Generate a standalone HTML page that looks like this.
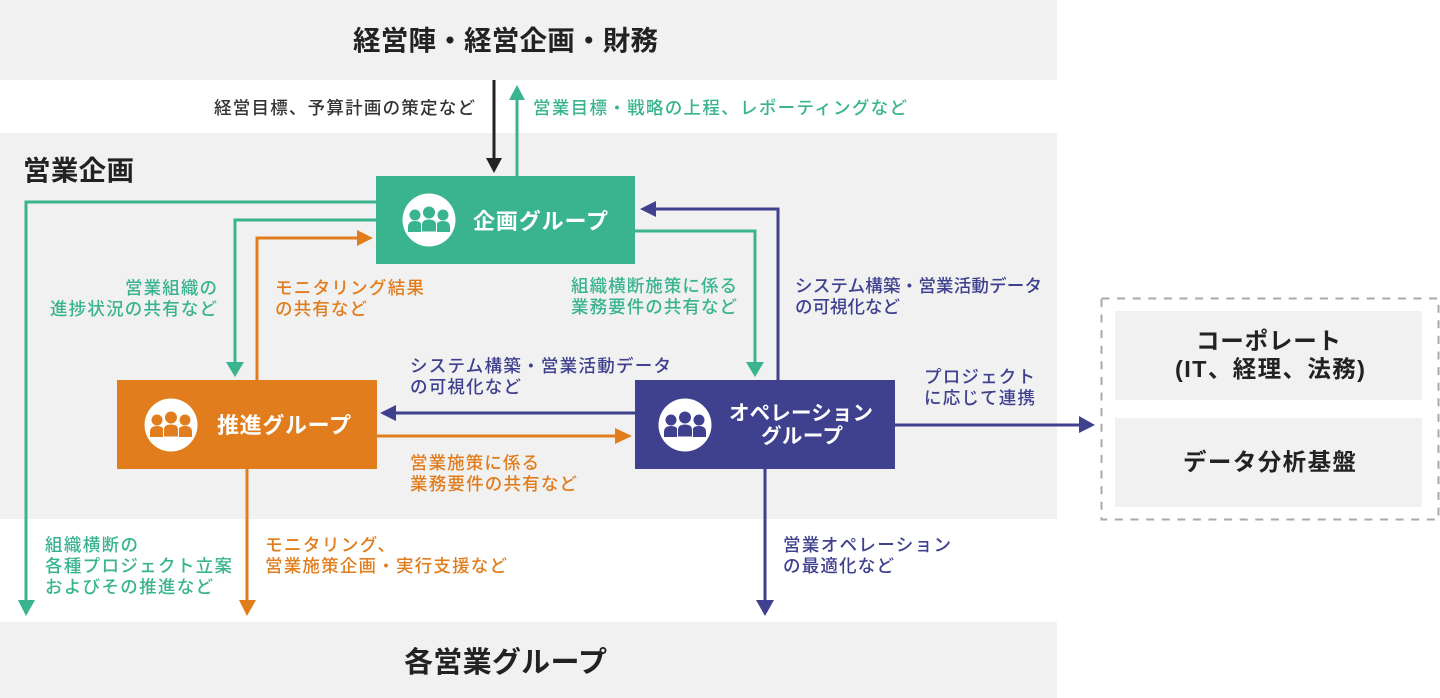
<!DOCTYPE html>
<html lang="ja"><head><meta charset="utf-8">
<style>html,body{margin:0;padding:0;background:#fff;overflow:hidden}svg{display:block;filter:blur(0.35px)}
text{font-family:"Liberation Sans","Noto Sans CJK JP",sans-serif;font-weight:500}</style></head>
<body>
<svg width="1440" height="698" viewBox="0 0 1440 698" xmlns="http://www.w3.org/2000/svg">
<rect width="1440" height="698" fill="#fff"/>
<rect x="0" y="0" width="1057" height="80" fill="#f1f1f1"/>
<rect x="0" y="133" width="1057" height="386" fill="#f1f1f1"/>
<rect x="0" y="622" width="1057" height="76" fill="#f1f1f1"/>
<rect x="1101.500" y="298.500" width="337" height="221" fill="none" stroke="#aaa" stroke-width="2" stroke-dasharray="8 7.600"/>
<rect x="1115" y="311" width="307" height="89" fill="#f1f1f1"/>
<rect x="1115" y="418" width="307" height="89" fill="#f1f1f1"/>

<g fill="none" stroke-width="3">
<path d="M494 80V162" stroke="#222"/>
<path d="M517 176V96" stroke="#39b48f"/>
<path d="M376 202H26V604" stroke="#39b48f"/>
<path d="M376 220H235V366" stroke="#39b48f"/>
<path d="M635 231H755V366" stroke="#39b48f"/>
<path d="M257 380V238H360" stroke="#e27d1e"/>
<path d="M778 380V209H652" stroke="#3f418f"/>
<path d="M635 413H392" stroke="#3f418f"/>
<path d="M377 436H618" stroke="#e27d1e"/>
<path d="M247 468V604" stroke="#e27d1e"/>
<path d="M765 468V604" stroke="#3f418f"/>
<path d="M895 425H1082" stroke="#3f418f"/>
</g>
<polygon points="486,158 502,158 494,173" fill="#222"/>
<polygon points="509,100 525,100 517,85" fill="#39b48f"/>
<polygon points="18,600 35,600 26,616" fill="#39b48f"/>
<polygon points="226,362 244,362 235,377" fill="#39b48f"/>
<polygon points="746,362 764,362 755,377" fill="#39b48f"/>
<polygon points="357,230 357,246 373,238" fill="#e27d1e"/>
<polygon points="656,201 656,217 640,209" fill="#3f418f"/>
<polygon points="396,405 396,421 380,413" fill="#3f418f"/>
<polygon points="615,428 615,444 632,436" fill="#e27d1e"/>
<polygon points="239,600 256,600 247,616" fill="#e27d1e"/>
<polygon points="756,600 774,600 765,616" fill="#3f418f"/>
<polygon points="1079,416 1079,433 1095,425" fill="#3f418f"/>

<rect x="376" y="176" width="259" height="88" fill="#39b48f"/>
<rect x="117" y="380" width="260" height="89" fill="#e27d1e"/>
<rect x="635" y="380" width="260" height="89" fill="#3f418f"/>

<defs><g id="p"><circle r="26.500" fill="#fff"/>
<circle cx="-14" cy="-5" r="5.500"/><circle cx="14" cy="-5" r="5.500"/><circle cx="0" cy="-7.500" r="6"/>
<path d="M-21 12V7Q-21 1 -14 1Q-7 1 -7 7V12Z"/><path d="M7 12V7Q7 1 14 1Q21 1 21 7V12Z"/>
<path d="M-7.500 12V5Q-7.500 -1 0 -1Q7.500 -1 7.500 5V12Z" stroke="#fff" stroke-width="1"/></g></defs>
<use href="#p" x="429" y="220" fill="#39b48f"/>
<use href="#p" x="171" y="425" fill="#e27d1e"/>
<use href="#p" x="685" y="425" fill="#3f418f"/>

<g fill="#222">
<text x="353" y="50" font-size="27.500" textLength="305" style="font-weight:700">経営陣・経営企画・財務</text>
<text x="404" y="672" font-size="29" textLength="203" style="font-weight:700">各営業グループ</text>
<text x="23" y="180" font-size="27.500" textLength="111" style="font-weight:700">営業企画</text>
</g>

<g fill="#fff" font-size="22">
<text x="473" y="229" textLength="135" style="font-weight:700">企画グループ</text>
<text x="217" y="433" textLength="134" style="font-weight:700">推進グループ</text>
<text x="729" y="420" font-size="20.500" textLength="144" style="font-weight:700">オペレーション</text>
<text x="761" y="443" font-size="20.500" textLength="82" style="font-weight:700">グループ</text>
</g>

<g fill="#222" font-size="23.500">
<text x="1196" y="349" textLength="145" style="font-weight:700">コーポレート</text>
<text x="1175" y="377" textLength="190" style="font-weight:700">(IT、経理、法務)</text>
<text x="1183" y="470" textLength="173" style="font-weight:700">データ分析基盤</text>
</g>

<g font-size="17.500">
<text x="214" y="114" fill="#333" textLength="261">経営目標、予算計画の策定など</text>
<text x="533" y="114" fill="#39b48f" textLength="374">営業目標・戦略の上程、レポーティングなど</text>
<g fill="#39b48f">
<text x="125" y="294" textLength="92">営業組織の</text><text x="50" y="315" textLength="167">進捗状況の共有など</text>
<text x="571" y="292" textLength="166">組織横断施策に係る</text><text x="571" y="313" textLength="166">業務要件の共有など</text>
</g>
<g fill="#e27d1e">
<text x="275" y="294" textLength="149">モニタリング結果</text><text x="275" y="315" textLength="92">の共有など</text>
<text x="410" y="469" textLength="129">営業施策に係る</text><text x="410" y="490" textLength="167">業務要件の共有など</text>
<text x="265" y="551" textLength="130">モニタリング、</text><text x="265" y="572" textLength="242">営業施策企画・実行支援など</text>
</g>
<g fill="#3f418f">
<text x="795" y="292" textLength="247">システム構築・営業活動データ</text><text x="795" y="313" textLength="105">の可視化など</text>
<text x="410" y="372" textLength="261">システム構築・営業活動データ</text><text x="410" y="393" textLength="111">の可視化など</text>
<text x="783" y="551" textLength="168">営業オペレーション</text><text x="783" y="572" textLength="111">の最適化など</text>
<text x="924" y="383" textLength="111">プロジェクト</text><text x="924" y="404" textLength="111">に応じて連携</text>
</g>
<g fill="#39b48f">
<text x="45" y="551" textLength="93">組織横断の</text><text x="45" y="572" textLength="187">各種プロジェクト立案</text><text x="45" y="593" textLength="168">およびその推進など</text>
</g>
</g>
</svg>
</body></html>
